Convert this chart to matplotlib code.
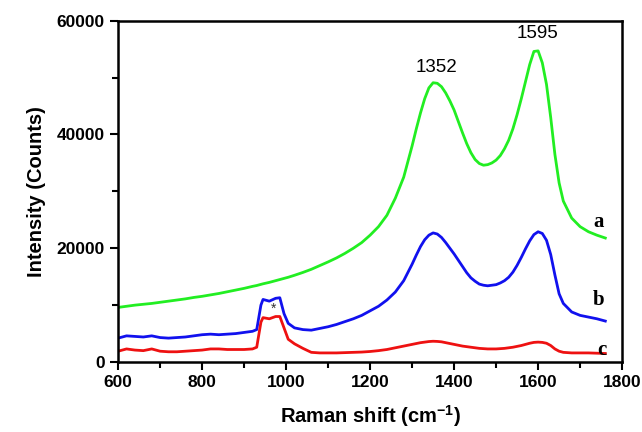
import matplotlib
matplotlib.use('Agg')
import matplotlib.pyplot as plt
from matplotlib.ticker import MultipleLocator

# Raman shift (cm-1) sample points
shift = (list(range(600, 940, 20))
         + [930, 940, 945, 960, 975, 985, 995, 1005]
         + list(range(1020, 1300, 20))
         + list(range(1300, 1670, 10))
         + list(range(1680, 1780, 20)))

spec_a = ([9600, 9800, 10000, 10150, 10300, 10500, 10700, 10900, 11100, 11350, 11550, 11800, 12050, 12350, 12650, 12950, 13300]
          + [13450, 13650, 13750, 14000, 14300, 14500, 14700, 14900]
          + [15250, 15750, 16300, 16950, 17600, 18300, 19100, 20000, 21000, 22300, 23800, 25800, 28800, 32500]
          + [38000, 41000, 43800, 46300, 48200, 49100, 49000, 48400, 47300, 45900, 44300, 42300, 40300, 38400, 36800,
             35600, 34900, 34600, 34700, 35000, 35500, 36300, 37500, 39000, 41000, 43500, 46300, 49300, 52300, 54600,
             54700, 52600, 48800, 43000, 36500, 31500, 28300]
          + [25300, 23800, 22900, 22300, 21800])

spec_b = ([4200, 4600, 4500, 4400, 4600, 4300, 4200, 4300, 4400, 4600, 4800, 4900, 4800, 4900, 5000, 5200, 5400]
          + [5700, 10000, 11000, 10700, 11200, 11300, 8500, 6800]
          + [6000, 5700, 5600, 5900, 6200, 6600, 7100, 7600, 8200, 9000, 9800, 10900, 12300, 14300]
          + [17200, 18800, 20300, 21500, 22300, 22700, 22500, 21900, 21000, 20000, 19000, 17900, 16800, 15700, 14800,
             14200, 13700, 13500, 13400, 13500, 13600, 13900, 14300, 14900, 15800, 17000, 18400, 19900, 21300, 22400,
             22900, 22600, 21400, 18900, 15300, 12000, 10300]
          + [8800, 8200, 7900, 7600, 7200])

spec_c = ([1900, 2300, 2100, 2000, 2300, 1900, 1800, 1800, 1900, 2000, 2100, 2300, 2300, 2200, 2200, 2200, 2300]
          + [2600, 7000, 7800, 7600, 8000, 8000, 6000, 4000]
          + [3200, 2400, 1700, 1600, 1600, 1600, 1650, 1700, 1750, 1850, 2000, 2200, 2500, 2800]
          + [3100, 3250, 3400, 3500, 3600, 3650, 3620, 3550, 3400, 3250, 3100, 2950, 2800, 2700, 2600,
             2500, 2400, 2350, 2300, 2300, 2300, 2350, 2400, 2500, 2600, 2750, 2900, 3100, 3300, 3450,
             3500, 3450, 3300, 2900, 2300, 1900, 1700]
          + [1600, 1600, 1600, 1550, 1500])

curve_labels = ['a', 'b', 'c']
label_pos = [(1743, 24600), (1743, 10900), (1752, 2100)]
peaks = ['1352', '1595']
peak_pos = [(1359, 51800), (1598, 57700)]

plt.rcParams['font.family'] = ['Liberation Sans', 'DejaVu Sans']
plt.rcParams['mathtext.fontset'] = 'custom'
plt.rcParams['mathtext.bf'] = 'Liberation Sans:bold'
plt.rcParams['mathtext.rm'] = 'Liberation Sans:bold'
plt.rcParams['mathtext.default'] = 'bf'

fig = plt.figure(figsize=(6.42, 4.32), dpi=100)
ax = fig.add_axes([0.184, 0.162, 0.785, 0.79])

ax.plot(shift, spec_a, color='#22ee22', lw=2)
ax.plot(shift, spec_b, color='#1111ee', lw=2)
ax.plot(shift, spec_c, color='#ee1111', lw=2)

for lab, (x, y) in zip(curve_labels, label_pos):
    ax.text(x, y, lab, family='Liberation Serif', fontweight='bold', fontsize=15, ha='center', va='center')
for lab, (x, y) in zip(peaks, peak_pos):
    ax.text(x, y, lab, fontsize=13.5, ha='center', va='center')
ax.text(969, 9300, '*', fontsize=10, ha='center', va='center', color='#333333')

ax.set_xlim(600, 1800)
ax.set_ylim(0, 60000)
ax.xaxis.set_major_locator(MultipleLocator(200))
ax.xaxis.set_minor_locator(MultipleLocator(100))
ax.yaxis.set_major_locator(MultipleLocator(20000))
ax.yaxis.set_minor_locator(MultipleLocator(10000))
ax.tick_params(which='major', direction='out', length=6, width=1.5, labelsize=12.5)
ax.tick_params(which='minor', direction='out', length=4, width=1.5)
for lbl in ax.get_xticklabels() + ax.get_yticklabels():
    lbl.set_fontweight('bold')
for sp in ax.spines.values():
    sp.set_linewidth(1.8)

ax.set_xlabel(r'Raman shift (cm$^{-1}$)', fontsize=14.5, fontweight='bold', labelpad=9)
ax.set_ylabel('Intensity (Counts)', fontsize=14.5, fontweight='bold', labelpad=8)

fig.savefig('out.png', dpi=100)
